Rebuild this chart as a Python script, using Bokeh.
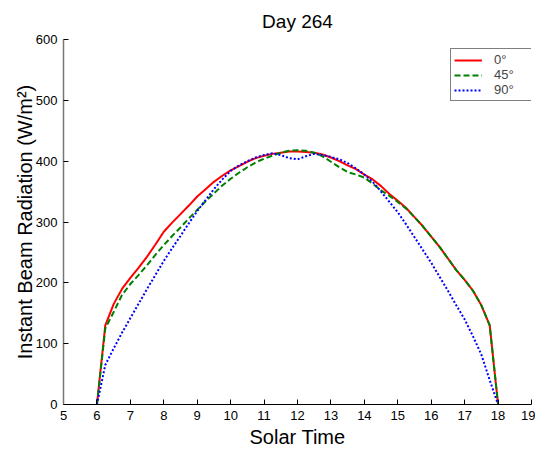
from bokeh.plotting import figure
from bokeh.models import Range1d, FixedTicker, Legend, LegendItem
from bokeh.embed import file_html
from bokeh.resources import INLINE

solar_time = [6.00, 6.25, 6.50, 6.75, 7.00, 7.25, 7.50, 7.75, 8.00, 8.25, 8.50, 8.75,
              9.00, 9.25, 9.50, 9.75, 10.00, 10.25, 10.50, 10.75, 11.00, 11.25, 11.50, 11.75,
              12.00, 12.25, 12.50, 12.75, 13.00, 13.25, 13.50, 13.75, 14.00, 14.25, 14.50, 14.75,
              15.00, 15.25, 15.50, 15.75, 16.00, 16.25, 16.50, 16.75, 17.00, 17.25, 17.50, 17.75, 18.00]

beam_0 = [0, 130, 165, 190, 208, 225, 243, 263, 284, 299, 313, 327,
          342, 354, 366, 376, 385, 392, 399, 405, 409, 412, 414, 416,
          416, 415, 414, 411, 406, 400, 393, 387, 378, 370, 359, 346,
          335, 323, 308, 293, 276, 259, 240, 221, 205, 187, 163, 130, 0]

beam_45 = [0, 125, 152, 180, 198, 213, 229, 246, 262, 277, 291, 306,
           320, 334, 347, 360, 371, 381, 390, 398, 404, 409, 414, 417,
           418, 417, 414, 408, 399, 390, 382, 378, 373, 363, 352, 343,
           333, 322, 308, 293, 276, 259, 240, 221, 205, 187, 163, 130, 0]

beam_90 = [0, 65, 92, 118, 142, 166, 190, 213, 236, 257, 277, 298,
           318, 336, 354, 370, 384, 393, 400, 406, 410, 413, 410, 405,
           403, 408, 412, 410, 407, 403, 397, 388, 378, 366, 350, 333,
           316, 296, 275, 254, 233, 210, 187, 163, 140, 112, 82, 40, 0]

x_ticks = list(range(5, 20))
y_ticks = [0, 100, 200, 300, 400, 500, 600]
series_labels = ["0°", "45°", "90°"]

FONT = "Liberation Sans"

p = figure(frame_width=468, frame_height=365,
           x_range=Range1d(5, 19), y_range=Range1d(0, 600),
           output_backend="svg", toolbar_location=None,
           min_border_left=63, min_border_right=4, min_border_top=39, min_border_bottom=40,
           title="Day 264")

p.outline_line_color = None
p.grid.visible = False
p.background_fill_color = "white"
p.border_fill_color = "white"

p.title.text_font = FONT
p.title.text_font_size = "19px"
p.title.text_font_style = "normal"
p.title.align = "center"
p.title.text_color = "black"
p.title.standoff = 16

r0 = p.line(solar_time, beam_0, line_color="#FF0000", line_width=2)
r45 = p.line(solar_time, beam_45, line_color="#008000", line_width=2, line_dash="6 3")
r90 = p.line(solar_time, beam_90, line_color="#0000FF", line_width=2, line_dash="2 2")

p.xaxis.ticker = FixedTicker(ticks=x_ticks)
p.yaxis.ticker = FixedTicker(ticks=y_ticks)

for ax in (p.xaxis[0], p.yaxis[0]):
    ax.major_tick_in = 5
    ax.major_tick_out = 0
    ax.minor_tick_in = 0
    ax.minor_tick_out = 0
    ax.major_label_text_font = FONT
    ax.major_label_text_font_size = "13px"
    ax.major_label_text_color = "black"
    ax.axis_label_text_font = FONT
    ax.axis_label_text_font_size = "20px"
    ax.axis_label_text_font_style = "normal"
    ax.axis_label_text_color = "black"
    ax.major_tick_line_color = "black"

p.xaxis.axis_label = "Solar Time"
p.yaxis.axis_label = "Instant Beam Radiation (W/m²)"
p.xaxis.axis_line_color = "black"
p.yaxis.axis_line_color = "#777777"
p.yaxis.axis_line_width = 1.5
p.xaxis.major_label_standoff = 6
p.yaxis.major_label_standoff = 6
p.xaxis.axis_label_standoff = 3
p.yaxis.axis_label_standoff = -3

legend = Legend(items=[LegendItem(label=series_labels[0], renderers=[r0]),
                       LegendItem(label=series_labels[1], renderers=[r45]),
                       LegendItem(label=series_labels[2], renderers=[r90])],
                location=(387, 303), margin=0)
legend.border_line_color = "black"
legend.border_line_width = 1
legend.background_fill_color = "white"
legend.background_fill_alpha = 1
legend.label_text_font = FONT
legend.label_text_font_size = "13px"
legend.label_text_align = "left"
legend.padding = 3
legend.spacing = 0
legend.glyph_height = 14
legend.label_height = 14
legend.glyph_width = 28
legend.label_standoff = 12
legend.label_width = 34
p.add_layout(legend, "center")

open("out.html", "w").write(file_html(p, INLINE))
